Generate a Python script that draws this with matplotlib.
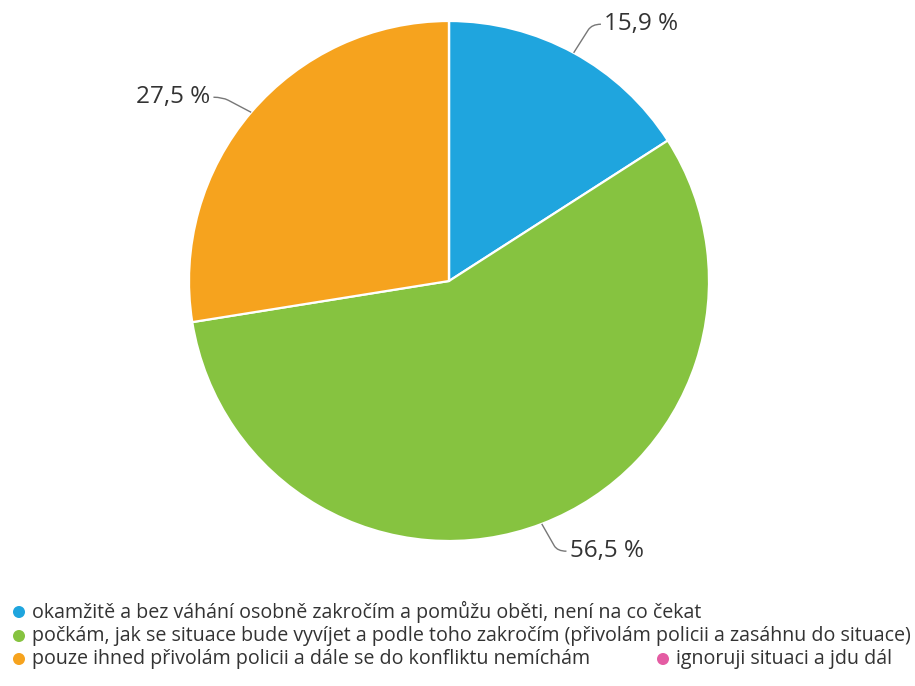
import numpy as np
import matplotlib
matplotlib.use("Agg")
import matplotlib.pyplot as plt
from matplotlib.path import Path
from matplotlib.patches import PathPatch

plt.rcParams['font.family'] = ['Open Sans', 'DejaVu Sans']

# Answers and their shares (percent)
categories = [
    "okamžitě a bez váhání osobně zakročím a pomůžu oběti, není na co čekat",
    "počkám, jak se situace bude vyvíjet a podle toho zakročím (přivolám policii a zasáhnu do situace)",
    "pouze ihned přivolám policii a dále se do konfliktu nemíchám",
    "ignoruji situaci a jdu dál",
]
values = [15.9, 56.5, 27.5, 0.0]
value_labels = ["15,9 %", "56,5 %", "27,5 %", ""]
colors = ["#1fa5de", "#86c340", "#f6a31e", "#e45ca3"]

W, H = 915, 686
fig = plt.figure(figsize=(W / 100, H / 100), dpi=100)
fig.patch.set_facecolor("white")

# pie area: centre (449, 281) px, radius 260 px
cx, cy, r = 449, 281, 260
ax = fig.add_axes([(cx - r) / W, (H - cy - r) / H, 2 * r / W, 2 * r / H])

wedges, _ = ax.pie(values, colors=colors, startangle=90, counterclock=False,
                   radius=1.0, wedgeprops=dict(edgecolor="white", linewidth=1.6))
ax.set_xlim(-1, 1)
ax.set_ylim(-1, 1)
ax.set_aspect("equal")
ax.axis("off")

# value labels with curved leader lines
offsets = {0: (0.07, 0.11, "left"), 1: (0.06, -0.105, "left"), 2: (-0.11, 0.058, "right")}
total = sum(values)
start = 90.0
for i, v in enumerate(values):
    span = v / total * 360.0
    mid = np.deg2rad(start - span / 2)
    start -= span
    if v <= 0:
        continue
    ex, ey = np.cos(mid), np.sin(mid)
    dx, dy, ha = offsets[i]
    # run towards an elbow, then bend into a short horizontal tail
    kx, ky = ex + dx, ey + dy
    sign = 1 if ha == "left" else -1
    tx, ty = kx + sign * 0.035, ky
    verts = [(ex, ey), (ex + dx * 0.8, ey + dy * 0.8), (kx, ky), (tx, ty)]
    codes = [Path.MOVETO, Path.LINETO, Path.CURVE3, Path.CURVE3]
    ax.add_patch(PathPatch(Path(verts, codes), fill=False, edgecolor="#777777",
                           linewidth=1.0, clip_on=False))
    ax.text(tx + sign * 0.012, ty, value_labels[i], ha=ha, va="center",
            fontsize=17.5, color="#333333", clip_on=False)

# legend drawn in pixel coordinates
lg = fig.add_axes([0, 0, 1, 1], facecolor="none")
lg.set_xlim(0, W)
lg.set_ylim(H, 0)
lg.axis("off")
legend_pos = [(19, 612), (19, 636), (19, 659), (663, 659)]
for (mx, my), lab, col in zip(legend_pos, categories, colors):
    lg.scatter([mx], [my], s=75, color=col, edgecolors="none", zorder=3)
    lg.text(mx + 13, my, lab, ha="left", va="center", fontsize=14.1,
            color="#333333")

fig.savefig("out.png", dpi=100, facecolor="white")
